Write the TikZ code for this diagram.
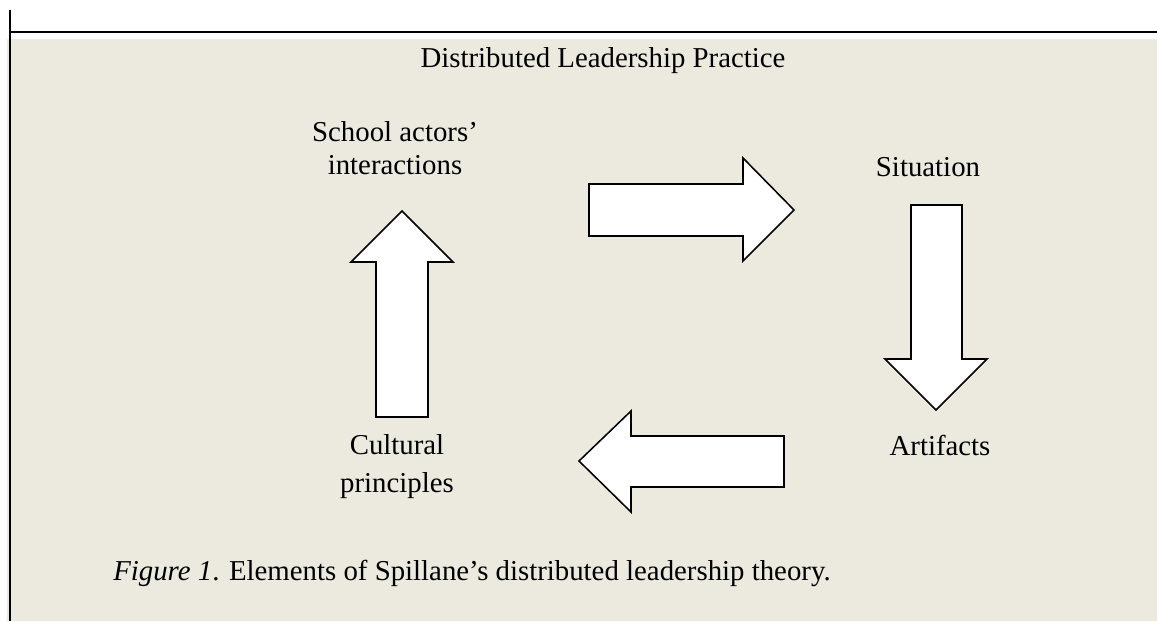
\documentclass[tikz,border=0pt]{standalone}
\usepackage{fontspec}
\setmainfont{Liberation Serif}
\usepackage{tikz}
\usepackage{tkz-euclide}

\definecolor{fundo}{HTML}{ECE9DF}

\tikzset{
  seta/.style={draw=black, line width=1.1pt, fill=white, line join=miter},
  rotulo/.style={inner sep=0pt, align=center, font=\fontsize{20.5}{23}\selectfont},
  moldura/.style={line width=1.4pt}
}

\begin{document}
\begin{tikzpicture}[x=0.25mm, y=-0.25mm] %unidades em pixels, eixo y para baixo

%Limites da figura
\useasboundingbox (0,0) rectangle (1157,621);

%O comando \tkzDefPoints define os pontos das quatro setas (x/y/NomedoPonto)
\tkzDefPoints{
376/417/U1, 376/262/U2, 351/262/U3, 402/211/U4, 453/262/U5, 428/262/U6, 428/417/U7,
589/184/R1, 743/184/R2, 743/158/R3, 794/210/R4, 743/261/R5, 743/236/R6, 589/236/R7,
911/205/B1, 962/205/B2, 962/359/B3, 987/359/B4, 936/410/B5, 885/359/B6, 911/359/B7,
784/436/E1, 631/436/E2, 631/411/E3, 579/461/E4, 631/512/E5, 631/487/E6, 784/487/E7}

%Fundo bege e linhas da tabela
%---------------------------------------------------
\fill[fundo] (7,39) rectangle (1157,621);
\coordinate (T1) at (10,32);
\coordinate (T2) at (1157,32);
\coordinate (L1) at (10,10);
\coordinate (L2) at (10,621);
\draw[moldura] (T1)--(T2);
\draw[moldura] (L1)--(L2);
%---------------------------------------------------

%Rotulos dos elementos (em nos de duas linhas a ancora base fica na ultima linha)
%---------------------------------------------------
\node[rotulo, anchor=base] (titulo) at (603,67) {Distributed Leadership Practice};
\node[rotulo, anchor=base] (atores) at (395,174) {School actors’\\interactions};
\node[rotulo, anchor=base] (situacao) at (928,176) {Situation};
\node[rotulo, anchor=base] (artefatos) at (940,455) {Artifacts};
\node[rotulo, anchor=base] (cultura) at (397,492) {Cultural\\[4pt]principles};
%---------------------------------------------------

%Seta para cima (de Cultural principles para School actors' interactions)
%---------------------------------------------------
\draw[seta] (U1)--(U2)--(U3)--(U4)--(U5)--(U6)--(U7)--cycle;

%Seta para a direita (para Situation)
%---------------------------------------------------
\draw[seta] (R1)--(R2)--(R3)--(R4)--(R5)--(R6)--(R7)--cycle;

%Seta para baixo (de Situation para Artifacts)
%---------------------------------------------------
\draw[seta] (B1)--(B2)--(B3)--(B4)--(B5)--(B6)--(B7)--cycle;

%Seta para a esquerda (de Artifacts para Cultural principles)
%---------------------------------------------------
\draw[seta] (E1)--(E2)--(E3)--(E4)--(E5)--(E6)--(E7)--cycle;

%Legenda da figura
%---------------------------------------------------
\node[rotulo, anchor=base west] (legenda) at (113,580)
  {\textit{Figure 1}. Elements of Spillane’s distributed leadership theory.};

\end{tikzpicture}
\end{document}
